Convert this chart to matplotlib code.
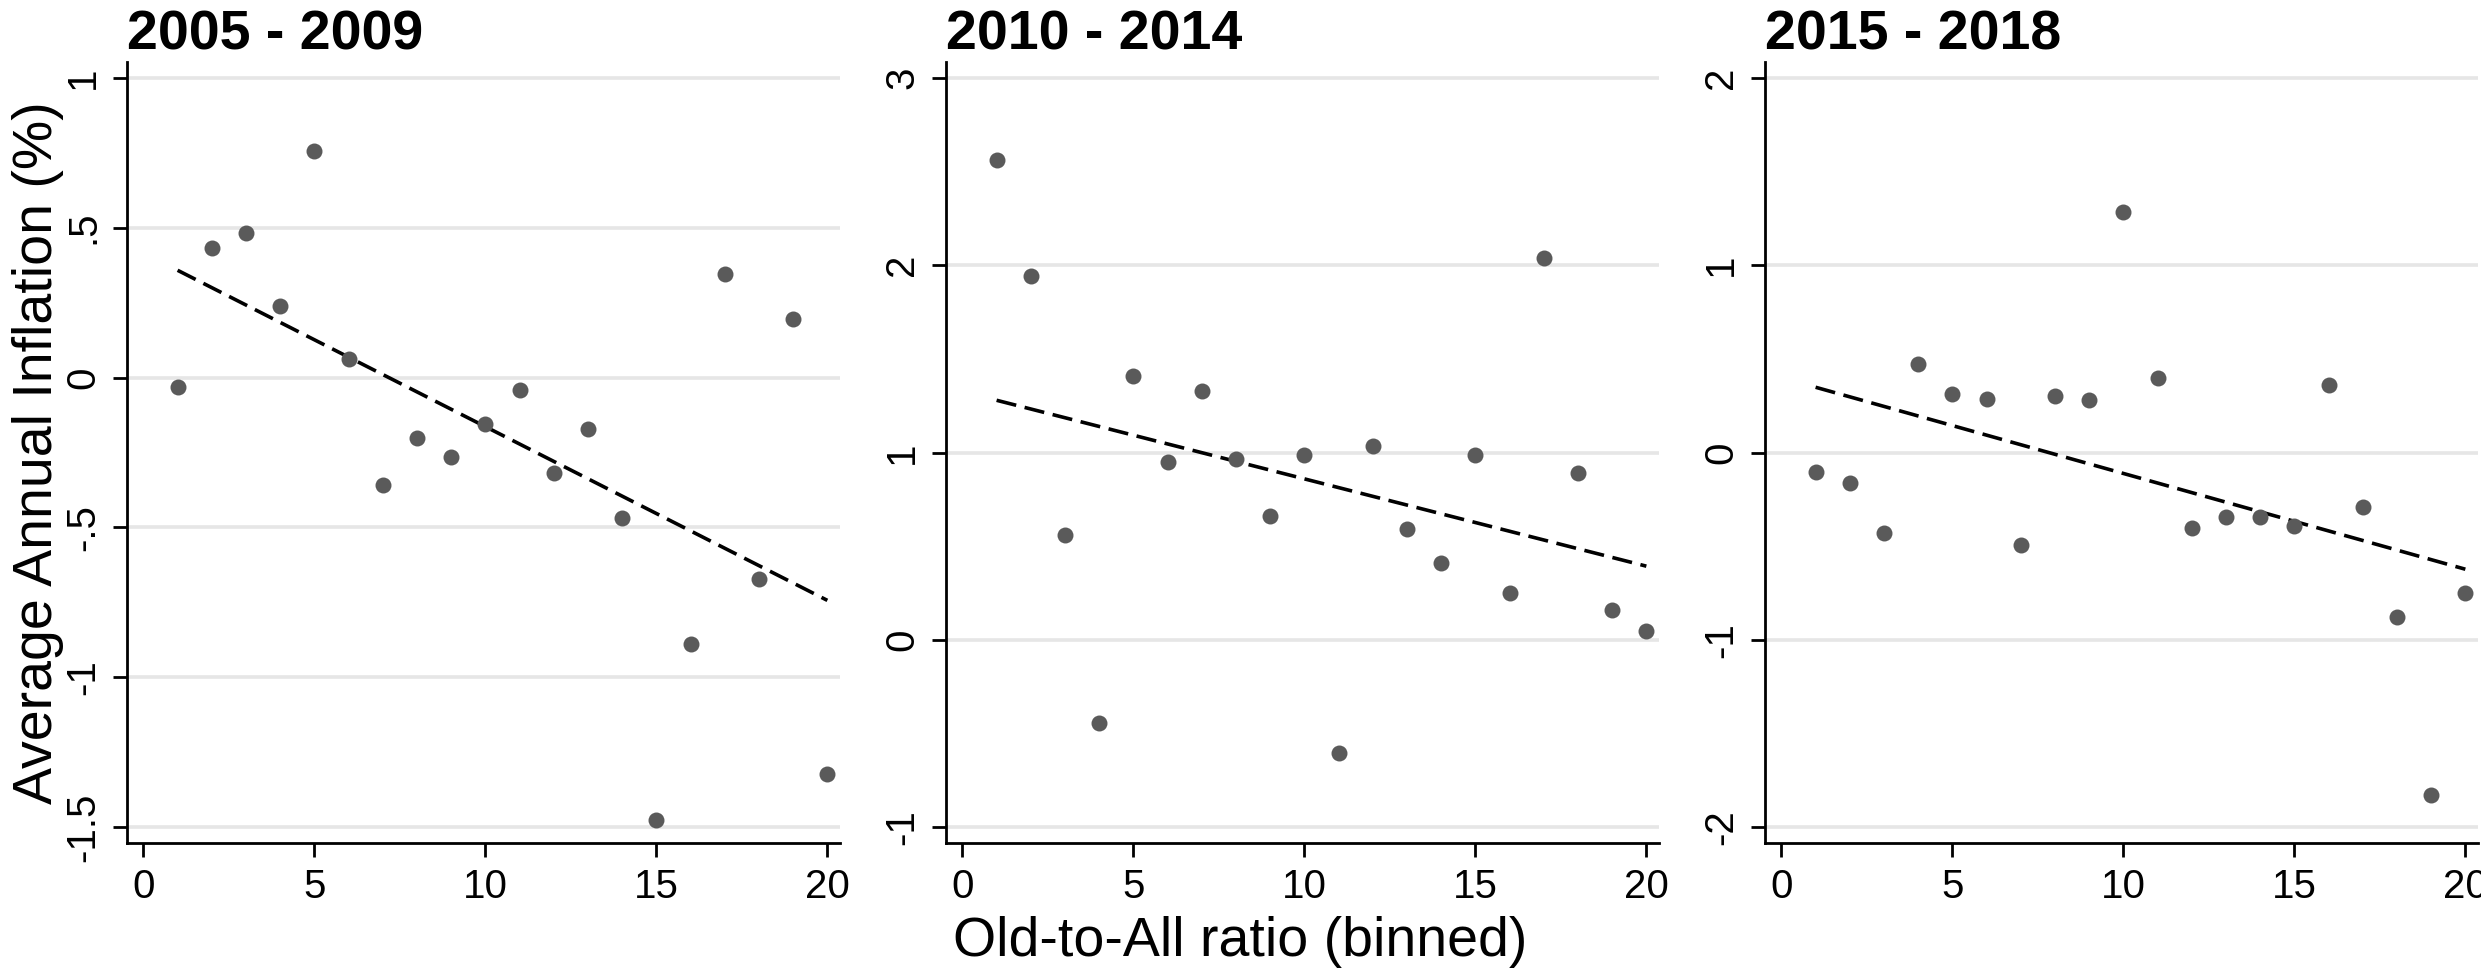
"""Binned scatter of average annual inflation vs old-to-all ratio, three periods."""

import matplotlib

matplotlib.use("Agg")
import matplotlib.pyplot as plt
import numpy as np

plt.rcParams["font.family"] = ["Liberation Sans", "DejaVu Sans"]

# --- data ------------------------------------------------------------------
bins = list(range(1, 21))

periods = ["2005 - 2009", "2010 - 2014", "2015 - 2018"]

infl_2005_2009 = [-0.033, 0.433, 0.483, 0.240, 0.756, 0.062, -0.360, -0.201,
                  -0.265, -0.155, -0.041, -0.319, -0.170, -0.470, -1.475,
                  -0.889, 0.346, -0.671, 0.195, -1.321]
infl_2010_2014 = [2.562, 1.942, 0.560, -0.444, 1.408, 0.951, 1.326, 0.964,
                  0.659, 0.984, -0.603, 1.034, 0.593, 0.411, 0.988, 0.252,
                  2.035, 0.891, 0.159, 0.050]
infl_2015_2018 = [-0.104, -0.164, -0.432, 0.472, 0.310, 0.287, -0.495, 0.303,
                  0.280, 1.281, 0.396, -0.403, -0.346, -0.346, -0.393, 0.360,
                  -0.293, -0.880, -1.828, -0.751]

yticks_2005_2009 = [-1.5, -1, -0.5, 0, 0.5, 1]
ylabels_2005_2009 = ["-1.5", "-1", "-.5", "0", ".5", "1"]
yticks_2010_2014 = [-1, 0, 1, 2, 3]
ylabels_2010_2014 = ["-1", "0", "1", "2", "3"]
yticks_2015_2018 = [-2, -1, 0, 1, 2]
ylabels_2015_2018 = ["-2", "-1", "0", "1", "2"]

xticks = [0, 5, 10, 15, 20]
xticklabels = ["0", "5", "10", "15", "20"]

series = [infl_2005_2009, infl_2010_2014, infl_2015_2018]
yticks_all = [yticks_2005_2009, yticks_2010_2014, yticks_2015_2018]
ylabels_all = [ylabels_2005_2009, ylabels_2010_2014, ylabels_2015_2018]

# --- layout (pixel positions) -----------------------------------------------
W, H = 2481, 973
fig = plt.figure(figsize=(W / 100, H / 100), dpi=100)

lefts = [127, 946, 1765]
width = 713
top, bottom = 62, 843

DOT = "#5a5a5a"
GRID = "#e6e6e6"

for left, ys, yt, yl, title in zip(lefts, series, yticks_all, ylabels_all, periods):
    ax = fig.add_axes([left / W, 1 - bottom / H, width / W, (bottom - top) / H])

    # gridlines at the labelled y ticks
    for v in yt:
        ax.axhline(v, color=GRID, linewidth=2.6, zorder=0)

    ax.plot(bins, ys, linestyle="none", marker="o", markersize=11.5,
            markerfacecolor=DOT, markeredgewidth=0, zorder=3)

    # OLS fit through the binned points
    slope, intercept = np.polyfit(bins, ys, 1)
    xs = np.array([bins[0], bins[-1]])
    ax.plot(xs, intercept + slope * xs, color="black", linewidth=2.6,
            dashes=(5.6, 2.4), zorder=2)

    # y range padded a touch beyond the outer ticks, as in the reference
    span = yt[-1] - yt[0]
    ax.set_ylim(yt[0] - 0.0208 * span, yt[-1] + 0.0208 * span)
    ax.set_xlim(-0.48, 20.37)

    ax.set_yticks(yt)
    ax.set_yticklabels(yl, rotation=90, va="center")
    ax.set_xticks(xticks)
    ax.set_xticklabels(xticklabels)

    ax.tick_params(axis="both", labelsize=29, length=10, width=2,
                   direction="out", pad=8, colors="black")
    for side in ("top", "right"):
        ax.spines[side].set_visible(False)
    for side in ("left", "bottom"):
        ax.spines[side].set_linewidth(2)

    ax.set_title(title, loc="left", fontsize=40, fontweight="bold", pad=9)

fig.text(38 / W, 1 - (top + bottom) / 2 / H, "Average Annual Inflation (%)",
         rotation=90, ha="center", va="center", fontsize=40)
fig.text(0.5, 1 - 956 / H, "Old-to-All ratio (binned)",
         ha="center", va="baseline", fontsize=40)

fig.savefig("out.png", dpi=100)
plt.close(fig)
